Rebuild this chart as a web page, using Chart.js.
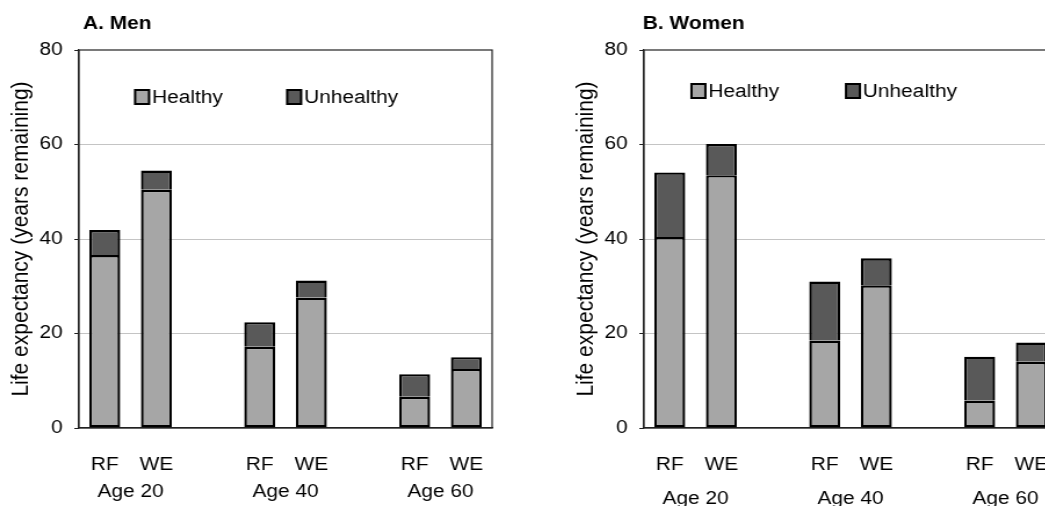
<!DOCTYPE html>
<html lang="en">
<head>
<meta charset="UTF-8">
<title>Life expectancy: healthy and unhealthy years</title>
<script src="https://cdn.jsdelivr.net/npm/chart.js"></script>
<style>
  html, body { margin: 0; padding: 0; background: #fff; overflow: hidden; }
  body { width: 1045px; height: 506px; position: relative; }
  .panel { position: absolute; top: 0; height: 506px; }
</style>
</head>
<body>
<!-- the original picture is a little wider than tall in its lettering, so each canvas is stretched sideways -->
<div class="panel" style="left:0"><canvas id="menChart" width="448" height="506" style="width:520px;height:506px"></canvas></div>
<div class="panel" style="left:565px"><canvas id="womenChart" width="448" height="506" style="width:520px;height:506px"></canvas></div>
<script>
const categories = ['RF', 'WE', '', 'RF', 'WE', '', 'RF', 'WE'];
const ageTicks = [0.5, 3.5, 6.5];
const ageLabels = ['Age 20', 'Age 40', 'Age 60'];

const menHealthy     = [36.6, 50.4, null, 17.2, 27.6, null, 6.6, 12.5];
const menUnhealthy   = [5.3,  4.1,  null, 5.2,  3.6,  null, 4.8, 2.5];
const womenHealthy   = [40.4, 53.5, null, 18.5, 30.2, null, 5.8, 14.0];
const womenUnhealthy = [13.7, 6.6,  null, 12.5, 5.7,  null, 9.3, 4.1];

Chart.defaults.font.family = "'Liberation Sans', Arial, sans-serif";
Chart.defaults.color = '#000';

// frame, panel title and the legend that sits inside the plot
const panelDecor = {
    id: 'panelDecor',
    afterDraw(chart, args, opts) {
        const { ctx, chartArea: a } = chart;
        ctx.save();
        ctx.strokeStyle = '#222';
        ctx.lineWidth = 1.2;
        ctx.strokeRect(a.left, a.top, a.right - a.left, a.bottom - a.top);

        ctx.fillStyle = '#000';
        ctx.font = "bold 18px 'Liberation Sans', Arial, sans-serif";
        ctx.textAlign = 'left';
        ctx.textBaseline = 'middle';
        ctx.fillText(opts.title, a.left + opts.titleDx, opts.titleY);

        ctx.font = "18px 'Liberation Sans', Arial, sans-serif";
        chart.data.datasets.forEach((ds, i) => {
            const x = a.left + opts.legendX[i] * (a.right - a.left);
            const y = a.top + opts.legendDy;
            ctx.fillStyle = ds.backgroundColor;
            ctx.fillRect(x, y - 7, 12, 14);
            ctx.strokeStyle = '#000';
            ctx.lineWidth = 2;
            ctx.strokeRect(x, y - 7, 12, 14);
            ctx.fillStyle = '#000';
            ctx.fillText(ds.label, x + 14.5, y + 1);
        });
        ctx.restore();
    }
};

function makeChart(id, healthy, unhealthy, deco) {
    return new Chart(document.getElementById(id), {
        type: 'bar',
        data: {
            labels: categories,
            datasets: [
                { label: 'Healthy', data: healthy, xAxisID: 'x', backgroundColor: '#a6a6a6',
                  borderColor: '#000', borderWidth: 2.4, borderSkipped: false },
                { label: 'Unhealthy', data: unhealthy, xAxisID: 'x', backgroundColor: '#595959',
                  borderColor: '#000', borderWidth: 2.4, borderSkipped: 'bottom' }
            ]
        },
        options: {
            responsive: false,
            animation: false,
            layout: { padding: { top: 50, right: 24, bottom: 0, left: 0 } },
            datasets: { bar: { barPercentage: 0.6, categoryPercentage: 1 } },
            plugins: {
                legend: { display: false },
                tooltip: { enabled: false },
                panelDecor: deco
            },
            scales: {
                x: {
                    stacked: true,
                    grid: { display: false },
                    border: { color: '#222', width: 1.2 },
                    ticks: { font: { size: 18 }, padding: 18, autoSkip: false, maxRotation: 0 },
                    afterFit: s => { s.height = 50; }
                },
                // second row under the RF/WE labels, centred between each pair
                age: {
                    type: 'linear',
                    position: 'bottom',
                    min: -0.5,
                    max: 7.5,
                    offset: false,
                    bounds: 'data',
                    grid: { display: false, offset: false },
                    border: { display: false },
                    afterBuildTicks: s => { s.ticks = ageTicks.map(v => ({ value: v })); },
                    ticks: { font: { size: 18 }, padding: deco.agePad,
                             callback: v => ageLabels[ageTicks.indexOf(v)] },
                    afterFit: s => { s.height = 28; }
                },
                y: {
                    stacked: true,
                    min: 0,
                    max: 80,
                    ticks: { stepSize: 20, font: { size: 18 }, padding: 10 },
                    grid: {
                        color: c => (c.tick.value === 0 || c.tick.value === 80) ? 'rgba(0,0,0,0)' : '#c4c4c4',
                        tickColor: '#222',
                        tickLength: 4
                    },
                    border: { color: '#222', width: 1.2 },
                    title: { display: true, text: 'Life expectancy (years remaining)',
                             font: { size: 21 }, padding: { top: 6, bottom: 0 } },
                    afterFit: s => { s.width = 68; }
                }
            }
        },
        plugins: [panelDecor]
    });
}

makeChart('menChart', menHealthy, menUnhealthy,
    { title: 'A. Men', titleDx: 3.5, titleY: 24, legendX: [0.136, 0.504], legendDy: 47, agePad: -5 });
makeChart('womenChart', womenHealthy, womenUnhealthy,
    { title: 'B. Women', titleDx: -1, titleY: 24, legendX: [0.115, 0.489], legendDy: 41, agePad: 2 });
</script>
</body>
</html>
